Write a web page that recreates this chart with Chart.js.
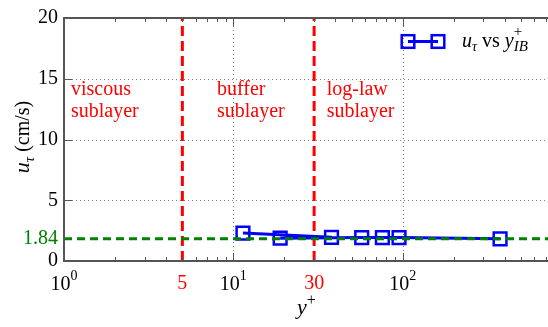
<!DOCTYPE html>
<html>
<head>
<meta charset="utf-8">
<script src="https://cdn.jsdelivr.net/npm/chart.js@4"></script>
<style>
  html, body { margin: 0; padding: 0; background: #fff; overflow: hidden; }
</style>
</head>
<body>
<canvas id="chart" width="600" height="327"></canvas>
<script>
// values (line is drawn in data order, not sorted)
const yPlus = [11.4, 38, 18.9, 57.3, 75.9, 95.2, 376];
const uTau = [2.3, 1.95, 1.88, 1.93, 1.93, 1.93, 1.83];
const uTauMean = 1.84;
const regionBounds = [5, 30];
const xPowers = [1, 10, 100, 1000];
const yTicks = [0, uTauMean, 5, 10, 15, 20];
const regionNames = [["viscous", "sublayer"], ["buffer", "sublayer"], ["log-law", "sublayer"]];
const regionTextX = [1.1, 8, 35.6];
const regionTextY = 13.7;

const SERIF = '"Liberation Serif", "DejaVu Serif", serif';
const AXIS = "#555";

// draw a row of text pieces (for sub/superscripts)
function drawRuns(ctx, x, y, runs) {
  let cx = x;
  runs.forEach((r) => {
    ctx.font = r.font;
    ctx.fillStyle = r.color || "#000";
    ctx.fillText(r.text, cx, y + (r.dy || 0));
    if (!r.noAdvance) cx += ctx.measureText(r.text).width;
  });
  return cx - x;
}
function runsWidth(ctx, runs) {
  let w = 0;
  runs.forEach((r) => {
    ctx.font = r.font;
    if (!r.noAdvance) w += ctx.measureText(r.text).width;
  });
  return w;
}

const decor = {
  id: "decor",
  beforeDatasetsDraw(chart) {
    const { ctx, chartArea: a, scales } = chart;
    ctx.save();
    ctx.strokeStyle = "rgba(0,0,0,0.5)";
    ctx.lineWidth = 1;
    ctx.setLineDash([1, 3]);
    [10, 100].forEach((v) => {
      const px = Math.round(scales.x.getPixelForValue(v)) + 0.5;
      ctx.beginPath(); ctx.moveTo(px, a.top); ctx.lineTo(px, a.bottom); ctx.stroke();
    });
    [5, 10, 15].forEach((v) => {
      const py = Math.round(scales.y.getPixelForValue(v)) + 0.5;
      ctx.beginPath(); ctx.moveTo(a.left, py); ctx.lineTo(a.right, py); ctx.stroke();
    });
    ctx.restore();
  },
  afterDatasetsDraw(chart) {
    const { ctx, chartArea: a, scales } = chart;
    const xs = scales.x, ys = scales.y;
    ctx.save();

    // spines
    ctx.strokeStyle = AXIS;
    ctx.lineWidth = 2;
    ctx.strokeRect(a.left, a.top, a.right - a.left, a.bottom - a.top);

    // inward ticks on x (bottom and top)
    ctx.lineWidth = 1;
    for (let d = 1; d < 1000; d *= 10) {
      for (let m = 1; m <= 9; m++) {
        const v = d * m;
        const px = Math.round(xs.getPixelForValue(v)) + 0.5;
        const len = m === 1 ? 8 : 4;
        ctx.beginPath();
        ctx.moveTo(px, a.bottom); ctx.lineTo(px, a.bottom - len);
        ctx.moveTo(px, a.top); ctx.lineTo(px, a.top + len);
        ctx.stroke();
      }
    }
    // inward ticks on y
    [5, 10, 15].forEach((v) => {
      const py = Math.round(ys.getPixelForValue(v)) + 0.5;
      ctx.beginPath();
      ctx.moveTo(a.left, py); ctx.lineTo(a.left + 8, py);
      ctx.moveTo(a.right, py); ctx.lineTo(a.right - 8, py);
      ctx.stroke();
    });

    // powers of ten labels
    ctx.textBaseline = "alphabetic";
    ctx.textAlign = "left";
    xPowers.forEach((v, k) => {
      const runs = [
        { text: "10", font: `20px ${SERIF}` },
        { text: String(k), font: `14px ${SERIF}`, dy: -10 },
      ];
      const w = runsWidth(ctx, runs);
      drawRuns(ctx, xs.getPixelForValue(v) - w / 2, 290, runs);
    });

    // region names
    ctx.fillStyle = "#ff0000";
    ctx.font = `20px ${SERIF}`;
    regionNames.forEach((lines, i) => {
      const px = xs.getPixelForValue(regionTextX[i]);
      const py = ys.getPixelForValue(regionTextY);
      lines.forEach((t, j) => ctx.fillText(t, px, py + j * 22));
    });

    // x axis title
    drawRuns(ctx, 297, 314, [
      { text: "y", font: `italic 22px ${SERIF}` },
      { text: "+", font: `16px ${SERIF}`, dy: -9 },
    ]);

    // y axis title
    ctx.save();
    ctx.translate(29, 137);
    ctx.rotate(-Math.PI / 2);
    const yRuns = [
      { text: "u", font: `italic 22px ${SERIF}` },
      { text: "τ", font: `italic 15px ${SERIF}`, dy: 5 },
      { text: " (cm/s)", font: `20px ${SERIF}` },
    ];
    drawRuns(ctx, -runsWidth(ctx, yRuns) / 2, 0, yRuns);
    ctx.restore();

    // legend
    const ly = 41.5;
    ctx.strokeStyle = "#0000ff";
    ctx.lineWidth = 3;
    ctx.beginPath(); ctx.moveTo(408, ly); ctx.lineTo(438, ly); ctx.stroke();
    ctx.lineWidth = 2.5;
    [408, 438].forEach((cx) => ctx.strokeRect(cx - 6.3, ly - 6.3, 12.6, 12.6));
    drawRuns(ctx, 462, 47, [
      { text: "u", font: `italic 20px ${SERIF}` },
      { text: "τ", font: `italic 14px ${SERIF}`, dy: 4 },
      { text: " vs ", font: `20px ${SERIF}` },
      { text: "y", font: `italic 20px ${SERIF}` },
      { text: "+", font: `15px ${SERIF}`, dy: -11, noAdvance: true },
      { text: "IB", font: `italic 15px ${SERIF}`, dy: 4 },
    ]);

    ctx.restore();
  },
};

new Chart(document.getElementById("chart"), {
  type: "line",
  data: {
    datasets: [
      {
        label: "mean",
        data: [{ x: 1, y: uTauMean }, { x: 1000, y: uTauMean }],
        borderColor: "#008000",
        borderWidth: 3,
        borderDash: [8, 5],
        pointRadius: 0,
      },
      {
        label: "u_tau vs y+_IB",
        data: yPlus.map((x, i) => ({ x, y: uTau[i] })),
        borderColor: "#0000ff",
        borderWidth: 3,
        pointStyle: "rect",
        pointRadius: 9,
        pointBorderWidth: 2.5,
        pointBackgroundColor: "rgba(0,0,0,0)",
        pointBorderColor: "#0000ff",
      },
      ...regionBounds.map((b) => ({
        label: "y+ = " + b,
        data: [{ x: b, y: 0 }, { x: b, y: 20 }],
        borderColor: "#ff0000",
        borderWidth: 3,
        borderDash: [10, 5],
        pointRadius: 0,
      })),
    ],
  },
  options: {
    responsive: false,
    animation: false,
    layout: { padding: { top: 12, right: 28, left: 0, bottom: 0 } },
    plugins: { legend: { display: false }, tooltip: { enabled: false } },
    scales: {
      x: {
        type: "logarithmic",
        min: 1,
        max: 1000,
        grid: { display: false, drawTicks: false },
        border: { display: false },
        afterBuildTicks: (s) => { s.ticks = regionBounds.map((v) => ({ value: v })); },
        afterFit: (s) => { s.height = 66; },
        ticks: {
          autoSkip: false,
          maxRotation: 0,
          padding: 11,
          color: "#ff0000",
          font: { family: SERIF, size: 20 },
          callback: (v) => String(v),
        },
      },
      y: {
        min: 0,
        max: 20,
        grid: { display: false, drawTicks: false },
        border: { display: false },
        afterBuildTicks: (s) => { s.ticks = yTicks.map((v) => ({ value: v })); },
        afterFit: (s) => { s.width = 64; },
        ticks: {
          padding: 6,
          font: { family: SERIF, size: 20 },
          color: (c) => (c.tick && c.tick.value === uTauMean ? "#008000" : "#000"),
          callback: (v) => String(v),
        },
      },
    },
  },
  plugins: [decor],
});
</script>
</body>
</html>
